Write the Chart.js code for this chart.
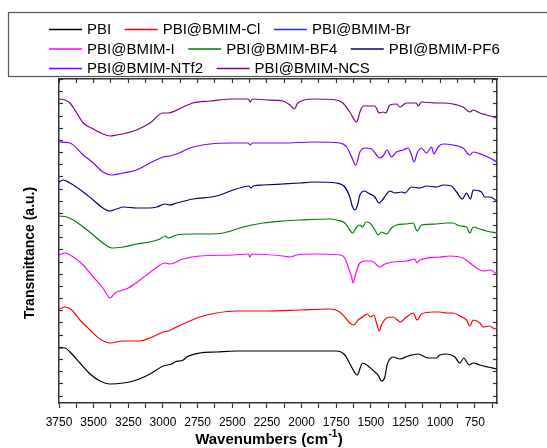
<!DOCTYPE html>
<html>
<head>
<meta charset="utf-8">
<script src="https://cdn.jsdelivr.net/npm/chart.js@4.4.1/dist/chart.umd.min.js"></script>
<style>
  html, body { margin: 0; padding: 0; background: #fff; }
  #wrap { width: 547px; height: 448px; }
</style>
</head>
<body>
<div id="wrap"><canvas id="ftirChart" width="547" height="448"></canvas></div>
<script>
// x axis: wavenumbers (cm-1), drawn high -> low
const xTickLabels = [3750, 3500, 3250, 3000, 2750, 2500, 2250, 2000, 1750, 1500, 1250, 1000, 750];

const seriesNames = ["PBI", "PBI@BMIM-Cl", "PBI@BMIM-Br", "PBI@BMIM-I",
    "PBI@BMIM-BF4", "PBI@BMIM-PF6", "PBI@BMIM-NTf2", "PBI@BMIM-NCS"];
const seriesColors = ["#000000", "#ff0000", "#2a2aff", "#ff00ff",
    "#008000", "#000080", "#8000ff", "#800080"];

// [wavenumber, transmittance (a.u., stacked)]
const pbi = [[3750,55],[3707,55],[3671,51],[3599,40],[3526,29],[3454,22],[3382,19],[3286,20],[3190,23],[3094,29],
    [2998,37],[2937,39],[2914,41],[2854,43],[2829,46],[2733,50],[2613,51],[2469,52],[2252,52],[2012,52],[1748,52],
    [1688,48],[1639,36],[1599,28],[1560,40],[1520,37],[1471,31],[1448,28],[1423,22],[1399,26],[1383,38],[1339,46],
    [1291,44],[1231,47],[1159,49],[1087,45],[1026,45],[1003,48],[954,49],[894,46],[858,40],[830,45],[791,38],
    [762,40],[714,38],[654,36],[590,34]];
const cl = [[3750,94],[3707,96],[3658,93],[3599,83],[3526,73],[3454,64],[3382,60],[3286,62],[3166,62],[3094,65],
    [2998,71],[2962,72],[2901,76],[2854,79],[2733,86],[2613,90],[2469,92],[2252,92],[2012,93],[1796,94],[1736,92],
    [1688,86],[1652,80],[1623,78],[1592,83],[1560,86],[1527,89],[1502,86],[1479,88],[1459,80],[1440,72],[1423,78],
    [1387,85],[1339,86],[1286,81],[1243,86],[1195,90],[1166,83],[1135,89],[1051,91],[1003,91],[954,90],[907,90],
    [846,86],[810,83],[786,77],[762,83],[714,80],[690,76],[642,77],[606,74],[590,76]];
const br = [];
const iodide = [[3750,148],[3707,150],[3647,146],[3575,138],[3503,126],[3433,115],[3402,108],[3382,105],[3346,110],
    [3310,112],[3250,115],[3166,123],[3070,133],[2986,140],[2950,139],[2854,144],[2733,147],[2493,148],[2385,149],
    [2373,146],[2360,149],[2135,147],[2084,146],[2036,148],[1916,149],[1724,148],[1688,145],[1664,136],[1639,126],
    [1628,120],[1608,130],[1579,140],[1543,142],[1495,142],[1471,140],[1440,136],[1399,139],[1339,141],[1243,142],
    [1183,144],[1166,140],[1147,143],[1003,146],[930,147],[835,145],[786,140],[738,135],[690,132],[642,133],[590,129]];
const bf4 = [[3750,187],[3694,186],[3647,183],[3575,176],[3503,168],[3433,160],[3370,155],[3286,156],[3190,159],
    [3094,161],[3022,164],[2986,167],[2962,165],[2901,168],[2782,169],[2661,169],[2565,170],[2421,176],[2277,180],
    [2135,182],[2012,183],[1796,184],[1748,183],[1688,180],[1652,173],[1632,170],[1603,176],[1579,178],[1560,176],
    [1536,181],[1507,180],[1471,173],[1448,168],[1423,171],[1387,169],[1351,175],[1315,178],[1243,179],[1195,180],
    [1166,172],[1135,178],[1026,179],[954,180],[907,180],[858,177],[810,176],[786,170],[762,176],[714,174],[666,172],
    [590,170]];
const pf6 = [[3750,221],[3719,223],[3671,220],[3575,211],[3503,203],[3433,195],[3382,192],[3334,194],[3286,196],
    [3190,195],[3094,195],[3045,196],[2986,199],[2950,198],[2901,200],[2782,204],[2613,207],[2493,213],[2421,216],
    [2380,217],[2365,215],[2350,217],[2277,218],[2135,219],[2012,220],[1918,221],[1748,220],[1688,216],[1652,206],
    [1632,196],[1616,193],[1596,198],[1579,208],[1543,212],[1520,210],[1471,206],[1442,200],[1416,203],[1392,208],
    [1363,212],[1327,210],[1279,211],[1255,210],[1207,216],[1147,215],[1099,217],[1026,216],[979,218],[918,217],
    [882,211],[839,204],[810,210],[781,204],[762,213],[702,211],[678,206],[642,206],[590,202]];
const ntf2 = [[3750,261],[3671,260],[3575,248],[3503,240],[3433,231],[3370,228],[3286,230],[3190,233],[3094,240],
    [2998,246],[2950,247],[2901,249],[2805,255],[2661,259],[2493,260],[2385,260],[2370,258],[2355,260],[2135,260],
    [1916,261],[1724,260],[1675,256],[1639,246],[1608,238],[1579,251],[1543,255],[1495,254],[1459,248],[1440,245],
    [1412,247],[1383,253],[1351,246],[1315,251],[1267,253],[1231,255],[1207,248],[1188,241],[1166,250],[1135,255],
    [1099,250],[1062,256],[1046,249],[1015,256],[979,259],[907,258],[835,255],[786,248],[762,251],[690,248],
    [642,245],[590,241]];
const ncs = [[3750,304],[3707,303],[3671,300],[3622,290],[3575,280],[3503,274],[3433,269],[3382,267],[3334,268],
    [3262,270],[3190,273],[3094,280],[3000,290],[2964,290],[2914,292],[2856,296],[2784,300],[2661,302],[2495,304],
    [2385,304],[2370,301],[2355,304],[2250,303],[2135,302],[2084,298],[2053,294],[2027,300],[1918,304],[1748,303],
    [1702,300],[1652,291],[1603,281],[1579,291],[1556,297],[1507,297],[1471,297],[1440,290],[1412,291],[1392,290],
    [1363,298],[1315,299],[1291,296],[1243,300],[1171,300],[1159,297],[1135,301],[1026,300],[979,300],[907,299],
    [835,296],[786,291],[762,293],[714,290],[666,288],[590,285]];

const seriesData = [pbi, cl, br, iodide, bf4, pf6, ntf2, ncs];

const FONT = '"Liberation Sans", Arial, Helvetica, sans-serif';
const FRAME = "#333333";

// major + minor tick positions on the wavenumber axis
const xTickValues = [];
xTickLabels.forEach(v => { xTickValues.push(v); xTickValues.push(v - 125); });

const datasets = seriesNames.map((name, i) => ({
    label: name,
    data: seriesData[i].map(p => ({ x: p[0], y: p[1] })),
    borderColor: seriesColors[i],
    backgroundColor: seriesColors[i],
    borderWidth: 1.2,
    pointRadius: 0,
    fill: false,
    cubicInterpolationMode: "monotone"
}));

// legend box + axis titles
const frameText = {
    id: "frameText",
    afterDraw(chart) {
        const ctx = chart.ctx;
        ctx.save();

        ctx.strokeStyle = "#555";
        ctx.lineWidth = 1.2;
        ctx.strokeRect(8.5, 12.5, 600, 64);

        ctx.font = "15px " + FONT;
        ctx.textBaseline = "middle";
        ctx.textAlign = "left";
        let x = 49, row = 0;
        chart.data.datasets.forEach((ds) => {
            const w = 38 + ctx.measureText(ds.label).width;
            if (x > 49 && x + w > 520) { row++; x = 49; }
            const y = 29.5 + row * 19.5;
            ctx.strokeStyle = ds.borderColor;
            ctx.lineWidth = 1.5;
            ctx.beginPath();
            ctx.moveTo(x, y);
            ctx.lineTo(x + 33, y);
            ctx.stroke();
            ctx.fillStyle = "#000";
            ctx.fillText(ds.label, x + 38, y + 0.5);
            x += w + 13.5;
        });

        // x title with superscript
        const main = "Wavenumbers (cm", sup = "-1", close = ")";
        ctx.fillStyle = "#000";
        ctx.textBaseline = "alphabetic";
        ctx.font = "bold 15px " + FONT;
        const wMain = ctx.measureText(main).width;
        const wClose = ctx.measureText(close).width;
        ctx.font = "bold 10px " + FONT;
        const wSup = ctx.measureText(sup).width;
        let tx = 269 - (wMain + wSup + wClose + 1) / 2;
        ctx.font = "bold 15px " + FONT;
        ctx.fillText(main, tx, 444);
        tx += wMain + 0.5;
        ctx.font = "bold 10px " + FONT;
        ctx.fillText(sup, tx, 437);
        tx += wSup + 0.5;
        ctx.font = "bold 15px " + FONT;
        ctx.fillText(close, tx, 444);

        // y title
        ctx.translate(30, 253);
        ctx.rotate(-Math.PI / 2);
        ctx.textAlign = "center";
        ctx.textBaseline = "middle";
        ctx.font = "bold 14px " + FONT;
        ctx.fillText("Transmittance (a.u.)", 0, 0);

        ctx.restore();
    }
};

const yTicks = (scale) => {
    const t = [];
    for (let v = 7; v < 324; v += 12.17) t.push({ value: v });
    scale.ticks = t;
};

const frameAxis = (extra) => Object.assign({
    grid: { drawOnChartArea: false, drawTicks: true, tickLength: -4, tickColor: FRAME, tickWidth: 1.2 },
    border: { display: true, color: FRAME, width: 1.5 },
    ticks: { display: false }
}, extra);

new Chart(document.getElementById("ftirChart"), {
    type: "line",
    data: { datasets: datasets },
    options: {
        responsive: false,
        animation: false,
        layout: { padding: { top: 79, left: 0, right: 0, bottom: 0 } },
        plugins: { legend: { display: false }, tooltip: { enabled: false } },
        scales: {
            x: {
                type: "linear", position: "bottom", reverse: true, min: 590, max: 3750,
                afterBuildTicks: (s) => { s.ticks = xTickValues.map(v => ({ value: v })); },
                afterFit: (s) => { s.height = 45; },
                grid: { drawOnChartArea: false, drawTicks: true, tickLength: 5, tickColor: FRAME, tickWidth: 1.2 },
                border: { display: true, color: FRAME, width: 1.5 },
                ticks: {
                    autoSkip: false, maxRotation: 0, padding: 7, color: "#000",
                    font: { family: FONT, size: 12 },
                    callback: (v) => xTickLabels.includes(v) ? String(v) : ""
                }
            },
            x2: frameAxis({
                type: "linear", position: "top", reverse: true, min: 590, max: 3750,
                afterBuildTicks: (s) => { s.ticks = xTickValues.map(v => ({ value: v })); },
                afterFit: (s) => { s.height = 0; }
            }),
            y: frameAxis({
                type: "linear", position: "left", min: 0, max: 324,
                afterBuildTicks: yTicks,
                afterFit: (s) => { s.width = 59; }
            }),
            y2: frameAxis({
                type: "linear", position: "right", min: 0, max: 324,
                afterBuildTicks: yTicks,
                afterFit: (s) => { s.width = 50; }
            })
        }
    },
    plugins: [frameText]
});
</script>
</body>
</html>
